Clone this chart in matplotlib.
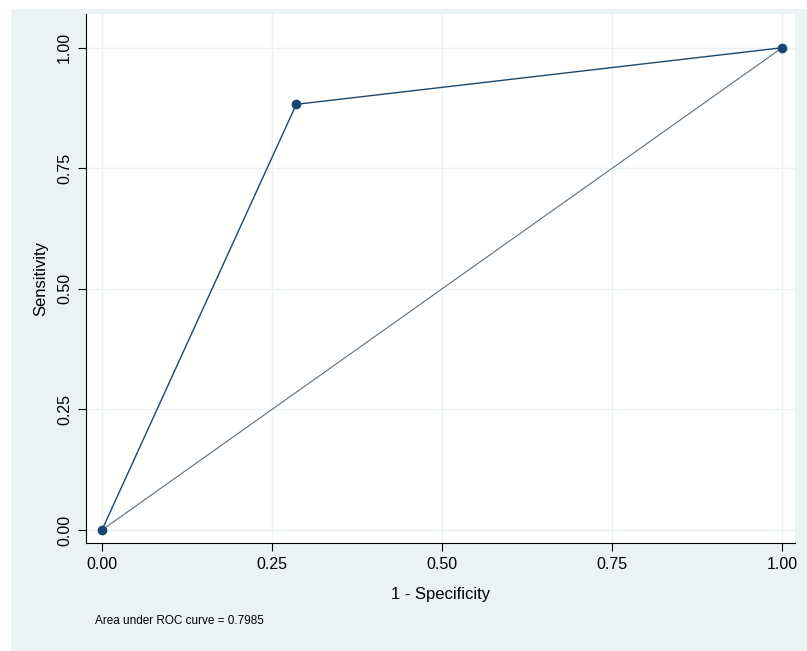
import matplotlib
matplotlib.use("Agg")
import matplotlib.pyplot as plt
from matplotlib.patches import Rectangle

# ROC points (1 - specificity, sensitivity)
fpr = [0.0, 0.2857, 1.0]
tpr = [0.0, 0.8827, 1.0]
ref_x = [0.0, 1.0]
ref_y = [0.0, 1.0]
ticks = [0.0, 0.25, 0.5, 0.75, 1.0]
tick_labels = ["0.00", "0.25", "0.50", "0.75", "1.00"]
auc = 0.7985

plt.rcParams['font.family'] = ['Liberation Sans', 'DejaVu Sans']

bg = '#eaf2f3'
navy = '#1a476f'

fig = plt.figure(figsize=(8.07, 6.51), dpi=100, facecolor=bg)
# thin white border at top/left, as in the original export
fig.patches.append(Rectangle((0, 0), 10 / 807, 1, transform=fig.transFigure, color='white', zorder=-1))
fig.patches.append(Rectangle((0, 1 - 8 / 651), 1, 8 / 651, transform=fig.transFigure, color='white', zorder=-1))

ax = fig.add_axes([86 / 807, 1 - 543 / 651, 709 / 807, 529 / 651])
ax.set_facecolor('white')

ax.plot(ref_x, ref_y, color='#5a6f80', lw=0.8, zorder=2)
ax.plot(fpr, tpr, color=navy, lw=1.0, marker='o', ms=6, zorder=3)

ax.set_xlim(-0.0235, 1.019)
ax.set_ylim(-0.027, 1.07)
ax.set_xticks(ticks)
ax.set_xticklabels(tick_labels, fontsize=11.5)
ax.set_yticks(ticks)
ax.set_yticklabels(tick_labels, fontsize=11.5, rotation=90, va='center')
ax.grid(True, color=bg, lw=1)
ax.set_axisbelow(True)

for s in ['top', 'right']:
    ax.spines[s].set_visible(False)
for s in ['left', 'bottom']:
    ax.spines[s].set_color('black')
    ax.spines[s].set_linewidth(0.8)
ax.tick_params(direction='out', length=6, width=0.8, pad=4)

ax.set_xlabel("1 - Specificity", fontsize=12, labelpad=11)
ax.set_ylabel("Sensitivity", fontsize=12, labelpad=6)

fig.text(95 / 807, 1 - 621 / 651, "Area under ROC curve = %.4f" % auc, fontsize=8.5, va='center')

fig.savefig("out.png", dpi=100, facecolor=fig.get_facecolor())
